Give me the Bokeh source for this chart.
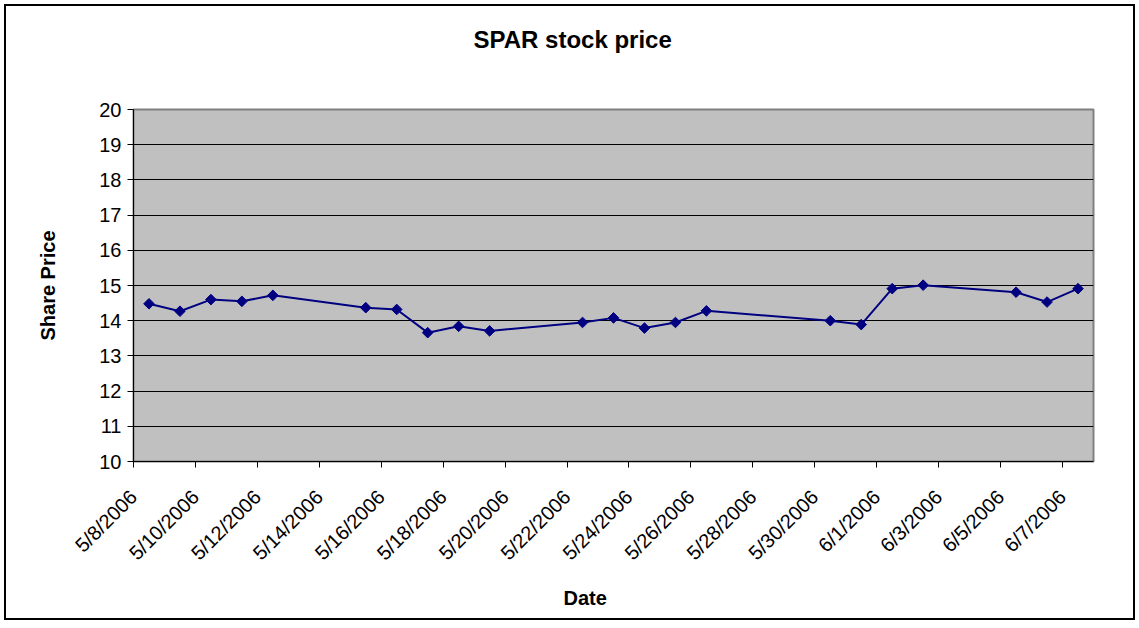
from datetime import datetime, timedelta
import numpy as np
from bokeh.plotting import figure
from bokeh.models import (Range1d, FixedTicker, CustomJSTickFormatter, Title, ColumnDataSource)
from bokeh.embed import file_html
from bokeh.resources import INLINE

# ---- data ----
dates = ["2006-05-08", "2006-05-09", "2006-05-10", "2006-05-11", "2006-05-12",
         "2006-05-15", "2006-05-16", "2006-05-17", "2006-05-18", "2006-05-19",
         "2006-05-22", "2006-05-23", "2006-05-24", "2006-05-25", "2006-05-26",
         "2006-05-30", "2006-05-31", "2006-06-01", "2006-06-02",
         "2006-06-05", "2006-06-06", "2006-06-07"]
prices = [14.48, 14.27, 14.60, 14.55, 14.72,
          14.37, 14.32, 13.66, 13.84, 13.71,
          13.95, 14.08, 13.79, 13.95, 14.28,
          14.00, 13.89, 14.91, 15.01,
          14.81, 14.53, 14.91]
title_text = "SPAR stock price"
x_title = "Date"
y_title = "Share Price"
axis_start = "2006-05-08"
axis_end = "2006-06-08"
y_min, y_max = 10, 20

# ---- build ----
def d(s):
    return datetime.strptime(s, "%Y-%m-%d")

# Excel date axis places each point in the middle of its day
xs = [d(s) + timedelta(hours=12) for s in dates]
src = ColumnDataSource(data=dict(x=xs, y=prices))

FONT = "Liberation Sans"
W, H = 1131, 616
p = figure(width=W, height=H, output_backend="svg", toolbar_location=None,
           x_axis_type="datetime",
           x_range=Range1d(d(axis_start), d(axis_end)),
           y_range=Range1d(y_min, y_max),
           min_border_left=127, min_border_right=44,
           min_border_top=103, min_border_bottom=161,
           background_fill_color="#C0C0C0", border_fill_color="white",
           styles={"border": "2px solid black", "margin": "4px 0 0 4px"})
p.outline_line_color = "#808080"
p.outline_line_width = 2

# spacer between frame and title (pushes the title upward)
p.add_layout(Title(text=" ", text_font_size="1px", standoff=49), "above")

# title
p.title.text = title_text
p.title.align = "left"
p.title.offset = 340
p.title.standoff = 10
p.title.text_font = FONT
p.title.text_font_size = "24px"
p.title.text_font_style = "bold"
p.title.text_color = "black"

# ticks
start = d(axis_start)
ndays = (d(axis_end) - start).days
tick_ms = [(start + timedelta(days=i) - datetime(1970, 1, 1)).total_seconds() * 1000
           for i in range(0, ndays, 2)]
p.xaxis.ticker = FixedTicker(ticks=tick_ms)
p.xaxis.formatter = CustomJSTickFormatter(code="""
const d = new Date(tick);
return (d.getUTCMonth()+1) + '/' + d.getUTCDate() + '/' + d.getUTCFullYear();
""")
p.xaxis.major_label_orientation = np.pi / 4
p.yaxis.ticker = FixedTicker(ticks=list(range(y_min, y_max + 1)))

for ax in (p.xaxis[0], p.yaxis[0]):
    ax.axis_line_color = "black"
    ax.axis_line_width = 1
    ax.major_tick_line_color = "black"
    ax.major_tick_in = 0
    ax.major_tick_out = 6
    ax.minor_tick_line_color = None
    ax.major_label_text_font = FONT
    ax.major_label_text_font_size = "20px"
    ax.major_label_text_color = "black"
p.xaxis.major_label_standoff = 26
p.yaxis.major_label_standoff = 6

p.yaxis.axis_label = y_title
p.yaxis.axis_label_text_font = FONT
p.yaxis.axis_label_text_font_size = "20px"
p.yaxis.axis_label_text_font_style = "bold"
p.yaxis.axis_label_text_color = "black"
p.yaxis.axis_label_standoff = 37

# spacer between x axis and its title, then the title itself
p.add_layout(Title(text=" ", text_font_size="1px", standoff=2), "below")
p.add_layout(Title(text=x_title, align="left", offset=430, standoff=10,
                   text_font=FONT, text_font_size="20px", text_font_style="bold",
                   text_color="black"), "below")

p.xgrid.grid_line_color = None
p.ygrid.ticker = FixedTicker(ticks=list(range(y_min + 1, y_max)))
p.ygrid.grid_line_color = "black"
p.ygrid.grid_line_width = 1

# series
p.line("x", "y", source=src, line_color="#000080", line_width=2)
p.scatter("x", "y", source=src, marker="square", angle=np.pi / 4, size=7.5,
          fill_color="#000080", line_color="#000080")

open("out.html", "w").write(file_html(p, INLINE))
